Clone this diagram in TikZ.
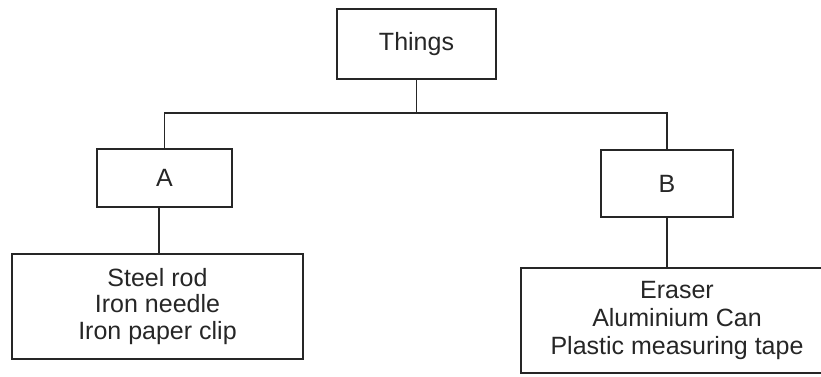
\documentclass[tikz,border=0pt]{standalone}
\usepackage{fontspec}
\setmainfont{Liberation Sans}
\begin{document}
\begin{tikzpicture}[x=1pt,y=-1pt,
  box/.style={draw=black!85, line width=1.6pt, rectangle, inner sep=0pt, align=center, text=black!85},
  conn/.style={draw=black!85, line width=1.6pt},
  big/.style={font=\fontsize{25}{26.5}\selectfont},
  bigb/.style={font=\fontsize{25}{28}\selectfont}]
\useasboundingbox (0,0) rectangle (821,376);
\node[box,big,minimum width=159pt,minimum height=70pt] (things) at (416.5,44) {Things};
\node[box,big,minimum width=135pt,minimum height=58pt] (A) at (164.5,178) {A};
\node[box,big,minimum width=132pt,minimum height=67pt] (B) at (667,183.5) {B};
\node[box,big,minimum width=291pt,minimum height=105pt] (left) at (157.5,306.5) {Steel rod\\Iron needle\\Iron paper clip};
\node[box,bigb,minimum width=312pt,minimum height=105pt] (right) at (677,320.5) {Eraser\\Aluminium Can\\Plastic measuring tape};
\coordinate (bar) at (416.5,113);
\draw[conn] (things.south) -- (bar);
\draw[conn] (A.north) |- (bar) -| (B.north);
\draw[conn] ([xshift=-5.5pt]A.south) -- ([xshift=-5.5pt]A.south |- left.north);
\draw[conn] (B.south) -- (B.south |- right.north);
\end{tikzpicture}
\end{document}
